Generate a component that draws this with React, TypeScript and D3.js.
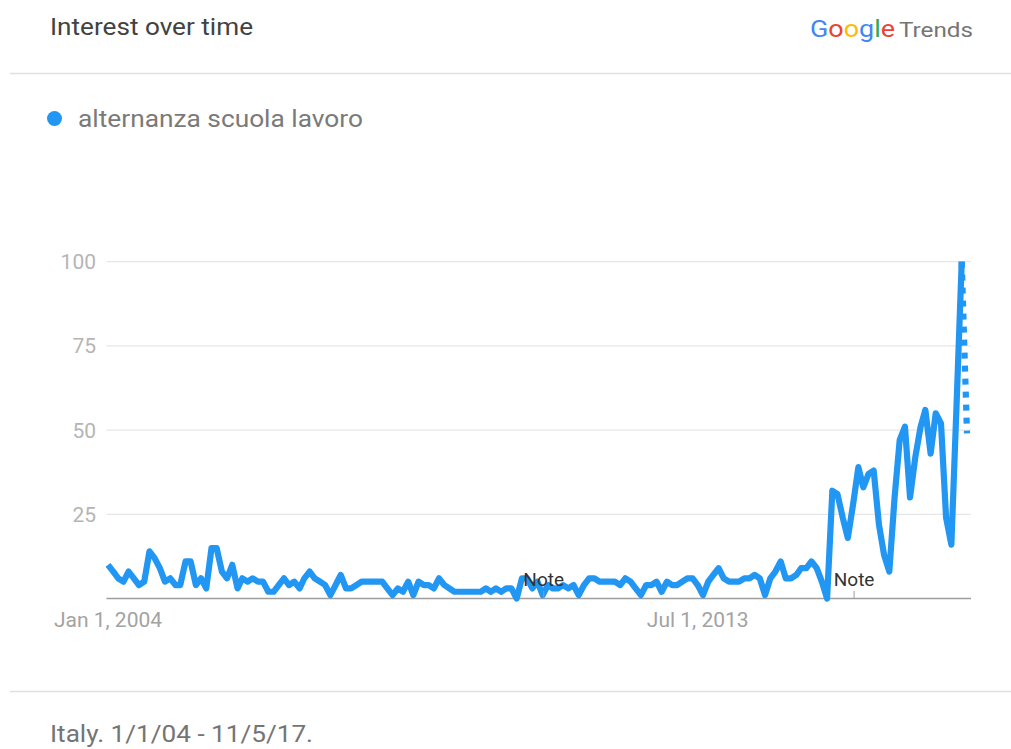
import React from 'react';
import * as d3 from 'd3';

// ---- data ----
const seriesName = 'alternanza scuola lavoro';
const startMonth = new Date(2004, 0, 1);
const endMonth = new Date(2017, 10, 1);
// monthly interest, Jan 2004 .. Nov 2017 (last month partial)
const values: number[] = [
  10, 8, 6, 5, 8, 6, 4, 5, 14, 12,
  9, 5, 6, 4, 4, 11, 11, 4, 6, 3,
  15, 15, 8, 6, 10, 3, 6, 5, 6, 5,
  5, 2, 2, 4, 6, 4, 5, 3, 6, 8,
  6, 5, 4, 1, 4, 7, 3, 3, 4, 5,
  5, 5, 5, 5, 3, 1, 3, 2, 5, 1,
  5, 4, 4, 3, 6, 4, 3, 2, 2, 2,
  2, 2, 2, 3, 2, 3, 2, 3, 3, 0,
  6, 6, 3, 5, 1, 4, 3, 3, 4, 3,
  4, 1, 4, 6, 6, 5, 5, 5, 5, 4,
  6, 5, 3, 1, 4, 4, 5, 2, 5, 4,
  4, 5, 6, 6, 4, 1, 5, 7, 9, 6,
  5, 5, 5, 6, 6, 7, 6, 1, 6, 8,
  11, 6, 6, 7, 9, 9, 11, 9, 5, 0,
  32, 31, 24, 18, 28, 39, 33, 37, 38, 22,
  13, 8, 30, 47, 51, 30, 42, 51, 56, 43,
  55, 52, 24, 16, 58, 100, 49,
];
const partialCount = 1;
const yTicks = [0, 25, 50, 75, 100];
const xTickDates = [new Date(2004, 0, 1), new Date(2013, 6, 1)];
const xTickLabels = ['Jan 1, 2004', 'Jul 1, 2013'];
const noteDates = [new Date(2011, 0, 1), new Date(2016, 0, 1)];
const titleText = 'Interest over time';
const footerText = 'Italy. 1/1/04 - 11/5/17.';
const googleLetters = ['G', 'o', 'o', 'g', 'l', 'e'];
const googleColors = ['#4285F4', '#EA4335', '#FBBC05', '#4285F4', '#34A853', '#EA4335'];

const FONT = 'Roboto, "Noto Sans", Arial, sans-serif';
const BLUE = '#2196F3';

export default function App() {
  const months = d3.timeMonths(startMonth, d3.timeMonth.offset(endMonth, 1));
  const data = months.map((d, i) => ({ date: d, value: values[i] }));

  const x = d3.scaleTime().domain([startMonth, endMonth]).range([108, 967]);
  const y = d3.scaleLinear().domain([0, 100]).range([598.5, 261.7]);
  const plotLeft = 106.5;
  const plotRight = 971;

  const line = d3
    .line<{ date: Date; value: number }>()
    .x((d) => x(d.date))
    .y((d) => y(d.value));

  const solid = data.slice(0, data.length - partialCount);
  const dotted = data.slice(data.length - partialCount - 1);

  return (
    <svg
      width={1011}
      height={749}
      style={{ position: 'absolute', left: 0, top: 0, background: '#fff' }}
      fontFamily={FONT}
    >
      <rect x={0} y={0} width={1011} height={749} fill="#fff" />
      {/* header */}
      <text x={50} y={35} fontSize={23} fill="#424242" textLength={203} lengthAdjust="spacingAndGlyphs">
        {titleText}
      </text>
      <text x={810} y={37} fontSize={24} textLength={85} lengthAdjust="spacingAndGlyphs">
        {googleLetters.map((l, i) => (
          <tspan key={i} fill={googleColors[i]}>
            {l}
          </tspan>
        ))}
      </text>
      <text x={899} y={37} fontSize={21} fill="#757575" textLength={74} lengthAdjust="spacingAndGlyphs">
        Trends
      </text>
      <line x1={10} x2={1011} y1={73.5} y2={73.5} stroke="#e0e0e0" strokeWidth={1.5} />

      {/* legend */}
      <circle cx={54.5} cy={118.5} r={7.5} fill={BLUE} />
      <text x={78} y={126.5} fontSize={23} fill="#7a7a7a" textLength={285} lengthAdjust="spacingAndGlyphs">
        {seriesName}
      </text>

      {/* gridlines */}
      {yTicks.map((t) =>
        t === 0 ? null : (
          <g key={t}>
            <line x1={plotLeft} x2={plotRight} y1={y(t)} y2={y(t)} stroke="#e6e6e6" strokeWidth={1.3} />
            <text x={96} y={y(t) + 7.5} fontSize={21} fill="#b5b5b5" textAnchor="end">
              {t}
            </text>
          </g>
        )
      )}
      <line x1={plotLeft} x2={plotRight} y1={y(0)} y2={y(0)} stroke="#9e9e9e" strokeWidth={1.5} />

      {/* x labels */}
      {xTickDates.map((d, i) => (
        <text key={i} x={x(d)} y={626.5} fontSize={21} fill="#a3a3a3" textAnchor="middle">
          {xTickLabels[i]}
        </text>
      ))}

      {/* series */}
      <path
        d={line(solid) || ''}
        fill="none"
        stroke={BLUE}
        strokeWidth={6.2}
        strokeLinejoin="round"
        strokeLinecap="butt"
      />
      <path
        d={line(dotted) || ''}
        fill="none"
        stroke={BLUE}
        strokeWidth={6.2}
        strokeDasharray="6 7"
      />

      {/* notes */}
      {noteDates.map((d, i) => (
        <g key={i}>
          <line x1={x(d) + 1} x2={x(d) + 1} y1={591} y2={598.5} stroke="#9e9e9e" strokeWidth={1} />
          <text x={x(d) + 1} y={586} fontSize={19} fill="#333" textAnchor="middle">
            Note
          </text>
        </g>
      ))}

      {/* footer */}
      <line x1={10} x2={1011} y1={691.5} y2={691.5} stroke="#e0e0e0" strokeWidth={1.5} />
      <text x={50} y={742} fontSize={23} fill="#757575" textLength={263} lengthAdjust="spacingAndGlyphs">
        {footerText}
      </text>
    </svg>
  );
}
